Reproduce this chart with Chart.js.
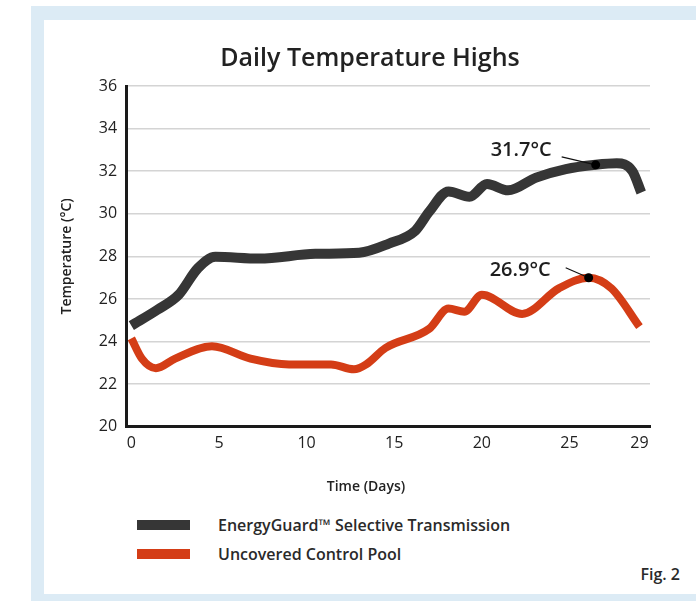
<!DOCTYPE html>
<html>
<head>
<meta charset="utf-8">
<script src="https://cdn.jsdelivr.net/npm/chart.js@4"></script>
<style>
  body { margin: 0; background: #fff; font-family: "Open Sans", sans-serif; }
  #frame { position: absolute; left: 31px; top: 6px; width: 700px; height: 600px; background: #dcebf5; }
  #inner { position: absolute; left: 44px; top: 20px; width: 652px; height: 574px; background: #fff; }
  #chart-box { position: absolute; left: 0; top: 0; width: 652px; height: 476px; }
  #legend { position: absolute; left: 93px; top: 490px; }
  .item { display: flex; align-items: center; height: 29px; }
  .swatch { width: 53px; height: 10px; margin-right: 28px; }
  .label { font-size: 16px; font-weight: 600; color: #2a2a2a; }
  #fig { position: absolute; right: 16px; top: 543px; font-size: 16px; font-weight: 600; color: #2a2a2a; }
</style>
</head>
<body>
<div id="frame"></div>
<div id="inner">
  <div id="chart-box"><canvas id="temp-chart"></canvas></div>
  <div id="legend"></div>
  <div id="fig">Fig. 2</div>
</div>
<script>
const guardDays = [0, 1.5, 2.7, 3.8, 4.8, 7.3, 10.5, 13, 14.7, 16.2, 17, 18.1, 19.3, 20.3, 21.5, 23.1, 24.8, 26.5, 27.7, 28.6, 29.1];
const guardTemps = [24.75, 25.5, 26.2, 27.45, 27.98, 27.9, 28.12, 28.17, 28.6, 29.2, 30.1, 31.05, 30.8, 31.4, 31.1, 31.7, 32.1, 32.3, 32.37, 32.0, 31.0];

const poolDays = [0, 0.6, 1.4, 2.5, 4.6, 6.8, 9, 11.4, 12.7, 13.4, 14.5, 17, 18.1, 19, 20, 22.3, 24.4, 26.1, 27.4, 29];
const poolTemps = [24.15, 23.2, 22.75, 23.2, 23.78, 23.2, 22.93, 22.93, 22.7, 22.93, 23.7, 24.6, 25.55, 25.4, 26.2, 25.3, 26.5, 27.0, 26.5, 24.7];

const xTicks = [0, 5, 10, 15, 20, 25, 29];

// marked points with their labels
const noteDays = [26.5, 26.1];
const noteTemps = [32.3, 27.0];
const noteLabels = ['31.7°C', '26.9°C'];

const seriesNames = ['EnergyGuard™ Selective Transmission', 'Uncovered Control Pool'];
const seriesColors = ['#363636', '#d43d16'];

function toPoints(days, temps) {
    return days.map((d, i) => ({ x: d, y: temps[i] }));
}

const notesPlugin = {
    id: 'notes',
    afterDatasetsDraw(chart) {
        const ctx = chart.ctx;
        const xs = chart.scales.x;
        const ys = chart.scales.y;
        const leaders = [[-34, -8], [-23, -10]];
        const textPos = [[-44, -15], [-38, -7]];
        noteDays.forEach((d, i) => {
            const px = xs.getPixelForValue(d);
            const py = ys.getPixelForValue(noteTemps[i]);
            ctx.save();
            ctx.strokeStyle = '#111';
            ctx.lineWidth = 1.2;
            ctx.beginPath();
            ctx.moveTo(px + leaders[i][0], py + leaders[i][1]);
            ctx.lineTo(px, py);
            ctx.stroke();
            ctx.fillStyle = '#000';
            ctx.beginPath();
            ctx.arc(px, py, 4.5, 0, Math.PI * 2);
            ctx.fill();
            ctx.font = '600 20px "Open Sans"';
            ctx.fillStyle = '#1e1e1e';
            ctx.textAlign = 'right';
            ctx.textBaseline = 'middle';
            ctx.fillText(noteLabels[i], px + textPos[i][0], py + textPos[i][1]);
            ctx.restore();
        });

        // x axis title, centred on the whole figure like the original
        ctx.save();
        ctx.font = '600 14px "Open Sans"';
        ctx.fillStyle = '#222';
        ctx.textAlign = 'center';
        ctx.textBaseline = 'middle';
        ctx.fillText('Time (Days)', chart.width / 2 - 4, chart.chartArea.bottom + 60);
        ctx.restore();
    }
};

const chart = new Chart(document.getElementById('temp-chart'), {
    type: 'line',
    data: {
        datasets: [
            {
                label: seriesNames[0],
                data: toPoints(guardDays, guardTemps),
                borderColor: seriesColors[0],
                borderWidth: 10,
                pointRadius: 0,
                tension: 0.4,
                cubicInterpolationMode: 'monotone',
                borderCapStyle: 'butt',
            },
            {
                label: seriesNames[1],
                data: toPoints(poolDays, poolTemps),
                borderColor: seriesColors[1],
                borderWidth: 8,
                pointRadius: 0,
                tension: 0.4,
                cubicInterpolationMode: 'monotone',
                borderCapStyle: 'butt',
            },
        ],
    },
    options: {
        responsive: true,
        maintainAspectRatio: false,
        animation: false,
        layout: { padding: { top: 8, right: 0, left: 0, bottom: 36 } },
        plugins: {
            legend: { display: false },
            tooltip: { enabled: false },
            title: {
                display: true,
                text: 'Daily Temperature Highs',
                color: '#222',
                font: { family: 'Open Sans', size: 25, weight: '600' },
                padding: { top: 16, bottom: 12 },
            },
        },
        scales: {
            x: {
                type: 'linear',
                min: -0.3,
                max: 29.6,
                afterBuildTicks: (axis) => { axis.ticks = xTicks.map((v) => ({ value: v })); },
                grid: { display: false, drawTicks: false },
                border: { color: '#1a1a1a', width: 3 },
                ticks: { color: '#222', font: { family: 'Open Sans', size: 16 }, padding: 7, maxRotation: 0 },
            },
            y: {
                min: 20,
                max: 36,
                ticks: { stepSize: 2, color: '#222', font: { family: 'Open Sans', size: 16 }, padding: 9 },
                grid: { color: '#d4d4d4', lineWidth: 1.5, drawTicks: false },
                border: { color: '#1a1a1a', width: 3 },
                title: {
                    display: true,
                    text: 'Temperature (°C)',
                    color: '#222',
                    font: { family: 'Open Sans', size: 14, weight: '600' },
                    padding: { top: 15, bottom: 14 },
                },
            },
            // empty right-hand scale, only to keep the plot clear of the frame edge
            yRight: {
                position: 'right',
                min: 20,
                max: 36,
                grid: { display: false },
                border: { display: false },
                ticks: { display: false },
                afterFit: (scale) => { scale.width = 46; },
            },
        },
    },
    plugins: [notesPlugin],
});

const legendBox = document.getElementById('legend');
chart.data.datasets.forEach((ds) => {
    const item = document.createElement('div');
    item.className = 'item';
    const swatch = document.createElement('div');
    swatch.className = 'swatch';
    swatch.style.background = ds.borderColor;
    const label = document.createElement('span');
    label.className = 'label';
    label.textContent = ds.label;
    item.appendChild(swatch);
    item.appendChild(label);
    legendBox.appendChild(item);
});
</script>
</body>
</html>
